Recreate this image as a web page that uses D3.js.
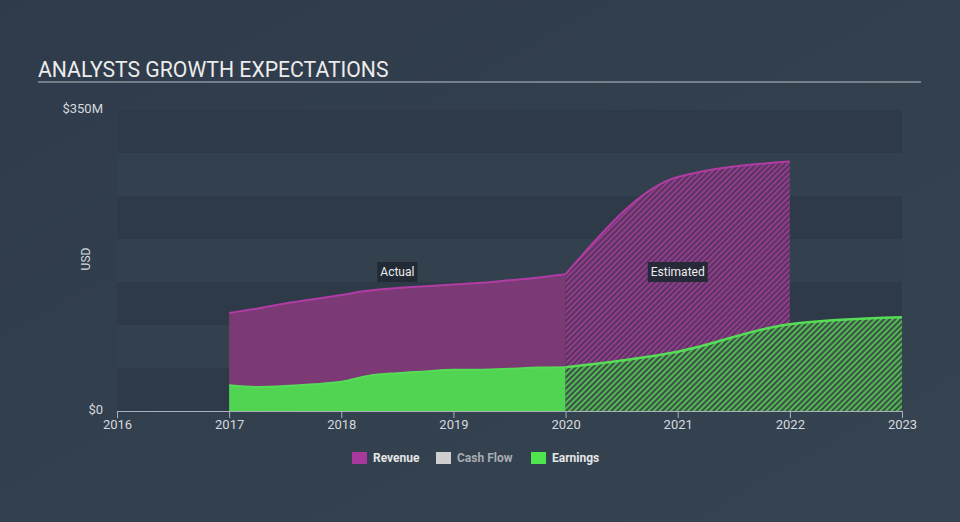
<!DOCTYPE html>
<html><head><meta charset="utf-8">
<script src="https://cdn.jsdelivr.net/npm/d3@7/dist/d3.min.js"></script>
<style>
html,body{margin:0;padding:0;background:#333f4e;}
svg{display:block;font-family:Roboto,"Open Sans",sans-serif;}
</style></head><body>
<svg id="c" width="960" height="522"></svg>
<script>
const revenueActualX = [2017.0,2017.25,2017.5,2017.75,2018.0,2018.25,2018.5,2018.75,2019.0,2019.25,2019.5,2019.75,2020.0];
const revenueActualY = [114,119,125,130,135,140,143,145,147,149,152,155,159];
const earningsActualX = [2017.0,2017.25,2017.5,2017.75,2018.0,2018.25,2018.5,2018.75,2019.0,2019.25,2019.5,2019.75,2020.0];
const earningsActualY = [30,28,29,31,34,41,44,46,48,48,49,50.5,51];
const revenueEstX = [2020,2021,2022];
const revenueEstY = [159,272,290];
const earningsEstX = [2020,2021,2022,2023];
const earningsEstY = [51,69,101,109];
const xTicks = [2016,2017,2018,2019,2020,2021,2022,2023];
const yTickLabels = ["$0","$350M"];
const yTickValues = [0,350];
const legendItems = ["Revenue","Cash Flow","Earnings"];

const svg = d3.select("#c");
const W=960,H=522;
const m={l:117,r:902,t:110,b:411};
const x=d3.scaleLinear().domain([2016,2023]).range([m.l,m.r]);
const y=d3.scaleLinear().domain([0,350]).range([m.b,m.t]);

const defs=svg.append("defs");
const bg=defs.append("linearGradient").attr("id","bg").attr("x1","0").attr("y1","0").attr("x2","1").attr("y2","1");
bg.append("stop").attr("offset","0").attr("stop-color","#2f3b4a");
bg.append("stop").attr("offset","1").attr("stop-color","#364452");
svg.append("rect").attr("width",W).attr("height",H).attr("fill","url(#bg)");

function hatch(id, base, stripe){
  const p=defs.append("pattern").attr("id",id).attr("patternUnits","userSpaceOnUse")
    .attr("width",4).attr("height",4).attr("patternTransform","rotate(45)");
  p.append("rect").attr("width",4).attr("height",4).attr("fill",base);
  p.append("rect").attr("width",1.7).attr("height",4).attr("fill",stripe);
}
hatch("hRev","#5a3461","#9a3e92");
hatch("hEarn","#3e5049","#52cc52");

const bandStep=50;
for(let v=0; v<350; v+=bandStep){
  const i=v/bandStep;
  svg.append("rect").attr("x",m.l).attr("width",m.r-m.l)
    .attr("y",y(v+bandStep)).attr("height",y(v)-y(v+bandStep))
    .attr("fill", i%2===0 ? "#2e3a48" : "#33404e");
}

svg.append("text").attr("x",38).attr("y",77).attr("fill","#ececec")
  .attr("font-size",21.2).text("ANALYSTS GROWTH EXPECTATIONS");
svg.append("line").attr("x1",38).attr("x2",921).attr("y1",82).attr("y2",82)
  .attr("stroke","#b8c0c8").attr("stroke-width",1.2);

const curve=d3.curveMonotoneX;
const area=d3.area().x(d=>x(d[0])).y0(y(0)).y1(d=>y(d[1])).curve(curve);
const line=d3.line().x(d=>x(d[0])).y(d=>y(d[1])).curve(curve);
const zip=(a,b)=>a.map((v,i)=>[v,b[i]]);

const revA=zip(revenueActualX,revenueActualY);
const earnA=zip(earningsActualX,earningsActualY);
const revE=zip(revenueEstX,revenueEstY);
const earnE=zip(earningsEstX,earningsEstY);

svg.append("path").attr("d",area(revA)).attr("fill","#7b3a76");
svg.append("path").attr("d",area(revE)).attr("fill","url(#hRev)");
svg.append("path").attr("d",line(revA)).attr("fill","none").attr("stroke","#b13ca3").attr("stroke-width",2);
svg.append("path").attr("d",line(revE)).attr("fill","none").attr("stroke","#b13ca3").attr("stroke-width",2);
svg.append("path").attr("d",area(earnA)).attr("fill","#50d452");
svg.append("path").attr("d",area(earnE)).attr("fill","url(#hEarn)");
svg.append("path").attr("d",line(earnA)).attr("fill","none").attr("stroke","#56dc56").attr("stroke-width",2);
svg.append("path").attr("d",line(earnE)).attr("fill","none").attr("stroke","#56dc56").attr("stroke-width",2.5);

const xAxis=d3.axisBottom(x).tickValues(xTicks).tickFormat(d3.format("d")).tickSize(7).tickSizeOuter(0);
const gx=svg.append("g").attr("transform",`translate(0,${m.b})`).call(xAxis);
gx.select(".domain").attr("stroke","#a9b2bc");
gx.selectAll(".tick line").attr("stroke","#a9b2bc");
gx.selectAll(".tick text").attr("fill","#d6d9dd").attr("font-size",13).attr("dy","0").attr("y",18)
  .attr("font-family","Roboto,sans-serif");

svg.selectAll(".ylab").data(yTickValues).enter().append("text")
  .attr("x",103).attr("y",d=>y(d)+3).attr("text-anchor","end")
  .attr("fill","#d6d9dd").attr("font-size",13).text((d,i)=>yTickLabels[i]);
svg.append("text").attr("transform","translate(90,259) rotate(-90)").attr("text-anchor","middle")
  .attr("fill","#d6d9dd").attr("font-size",12).text("USD");

function tag(cx,txt,w){
  svg.append("rect").attr("x",cx-w/2).attr("y",262).attr("width",w).attr("height",20).attr("fill","#1f2833").attr("opacity",0.92);
  svg.append("text").attr("x",cx).attr("y",276).attr("text-anchor","middle").attr("fill","#eeeeee").attr("font-size",12).text(txt);
}
tag(x(2018.5),"Actual",40);
tag(x(2021),"Estimated",60);

const legColors=["#a8399c","#cfcfcf","#4ee54e"];
const legX=[352,436,531];
const legTextCol=["#e6e6e6","#a8adb3","#e6e6e6"];
legendItems.forEach((t,i)=>{
  svg.append("rect").attr("x",legX[i]).attr("y",452).attr("width",15).attr("height",12).attr("fill",legColors[i]);
  svg.append("text").attr("x",legX[i]+21).attr("y",462).attr("fill",legTextCol[i])
    .attr("font-size",12).attr("font-weight","bold").text(t);
});
</script></body></html>
